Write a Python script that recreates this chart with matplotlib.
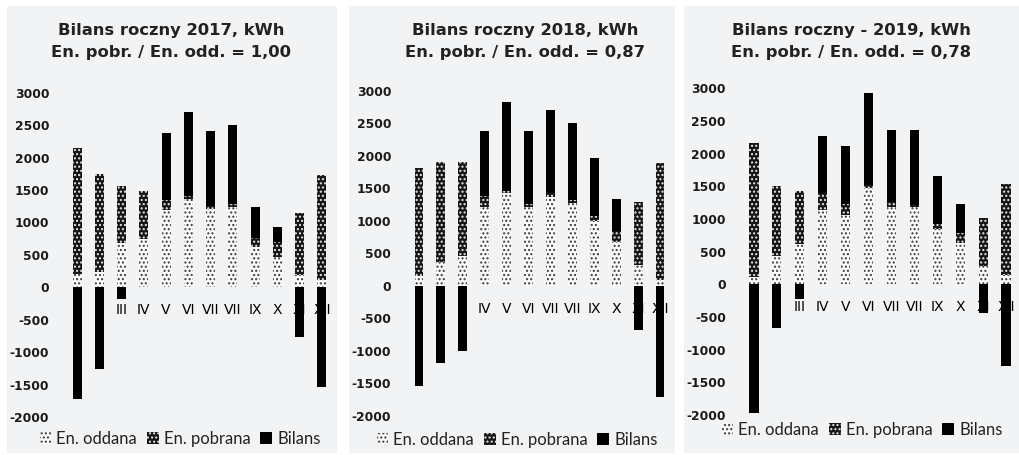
import matplotlib.pyplot as plt
from matplotlib.patches import Rectangle, Patch
import numpy as np

# month labels as they appear on the chart
months = ['I', 'II', 'III', 'IV', 'V', 'VI', 'VII', 'VII', 'IX', 'X', 'XI', 'XII']

# 2017, kWh
odd17 = [205, 240, 690, 740, 1190, 1360, 1210, 1245, 625, 465, 190, 115]
pob17 = [1940, 1505, 865, 745, 155, 45, 45, 40, 130, 230, 950, 1620]
bil17 = [-1720, -1260, -185, 0, 1030, 1300, 1155, 1210, 490, 240, -760, -1530]

# 2018, kWh
odd18 = [150, 370, 455, 1205, 1430, 1205, 1360, 1265, 1000, 675, 320, 85]
pob18 = [1665, 1540, 1450, 175, 25, 50, 60, 50, 70, 165, 975, 1800]
bil18 = [-1545, -1185, -1005, 1000, 1365, 1125, 1285, 1190, 890, 490, -680, -1710]

# 2019, kWh
odd19 = [105, 435, 610, 1140, 1060, 1470, 1190, 1190, 840, 625, 285, 145]
pob19 = [2060, 1075, 820, 255, 170, 50, 75, 20, 80, 155, 725, 1385]
bil19 = [-1975, -675, -225, 875, 885, 1405, 1095, 1150, 740, 450, -445, -1245]

titles = [
    ('Bilans roczny 2017, kWh', 'En. pobr. / En. odd. = 1,00'),
    ('Bilans roczny 2018, kWh', 'En. pobr. / En. odd. = 0,87'),
    ('Bilans roczny - 2019, kWh', 'En. pobr. / En. odd. = 0,78'),
]
legend_labels = ['En. oddana', 'En. pobrana', 'Bilans']
yticks = list(range(-2000, 3001, 500))

W, H = 1019, 455
BG = '#f2f3f5'
plt.rcParams['hatch.linewidth'] = 1.0

fig = plt.figure(figsize=(W / 100, H / 100), dpi=100)
fig.patch.set_facecolor('white')

def px_rect(l, t, r, b):
    return [l / W, 1 - b / H, (r - l) / W, (b - t) / H]

# panel frames, axes boxes (pixels), title/legend positions
panels = [(7, 6, 337, 453), (349, 6, 675, 453), (684, 6, 1019, 453)]
axboxes = [(66, 92.7, 333, 417), (408, 90.7, 671, 415.7), (742.5, 88.3, 1017.5, 415)]
title_x = [171, 525, 851]
legend_pos = [(180, 439), (517, 440), (862, 430)]

style_odd = dict(facecolor='#fbfbfb', edgecolor='#3a3a3a', hatch='....', linewidth=0)
style_pob = dict(facecolor='#161616', edgecolor='#e8e8e8', hatch='....', linewidth=0)
style_bil = dict(facecolor='black', edgecolor='black', linewidth=0)

data = [(odd17, pob17, bil17), (odd18, pob18, bil18), (odd19, pob19, bil19)]

for k in range(3):
    l, t, r, b = panels[k]
    fig.patches.append(Rectangle((l / W, 1 - b / H), (r - l) / W, (b - t) / H,
                                 transform=fig.transFigure, facecolor=BG,
                                 edgecolor='none', zorder=-5))

    odd, pob, bil = [np.array(v) for v in data[k]]
    ax = fig.add_axes(px_rect(*axboxes[k]))
    ax.patch.set_alpha(0)
    x = np.arange(len(months))
    w = 0.4
    ax.bar(x, odd, w, **style_odd)
    ax.bar(x, pob, w, bottom=odd, **style_pob)
    bil_bottom = np.where(bil > 0, odd + pob, 0)
    ax.bar(x, bil, w, bottom=bil_bottom, **style_bil)

    ax.set_xlim(-0.5, len(months) - 0.5)
    ax.set_ylim(-2000, 3000)
    ax.set_yticks(yticks)
    ax.set_yticklabels([str(v) for v in yticks], fontsize=8.9, fontweight='bold',
                       color='#1a1a1a')
    ax.tick_params(axis='y', length=0, pad=12)
    ax.set_xticks(x)
    ax.set_xticklabels(months, fontsize=11.2, fontweight='bold', family='Lato',
                       color='#1a1a1a')
    ax.tick_params(axis='x', length=0, pad=11.5)
    ax.spines['bottom'].set_position(('data', 0))
    for s in ax.spines.values():
        s.set_visible(False)
    ax.set_axisbelow(True)

    l1, l2 = titles[k]
    fig.text(title_x[k] / W, 1 - 30 / H, l1, ha='center', va='center',
             fontsize=11.8, fontweight='bold', color='#222222')
    fig.text(title_x[k] / W, 1 - 53 / H, l2, ha='center', va='center',
             fontsize=11.8, fontweight='bold', color='#222222')

    handles = [Patch(**style_odd), Patch(**style_pob), Patch(**style_bil)]
    lx, ly = legend_pos[k]
    fig.legend(handles, legend_labels, loc='center', bbox_to_anchor=(lx / W, 1 - ly / H),
               ncol=3, frameon=False, prop={'family': 'Lato', 'size': 12},
               handlelength=0.7, handleheight=0.7, handletextpad=0.3,
               columnspacing=0.6, borderpad=0, labelcolor='#222222')

fig.savefig('out.png', dpi=100)
